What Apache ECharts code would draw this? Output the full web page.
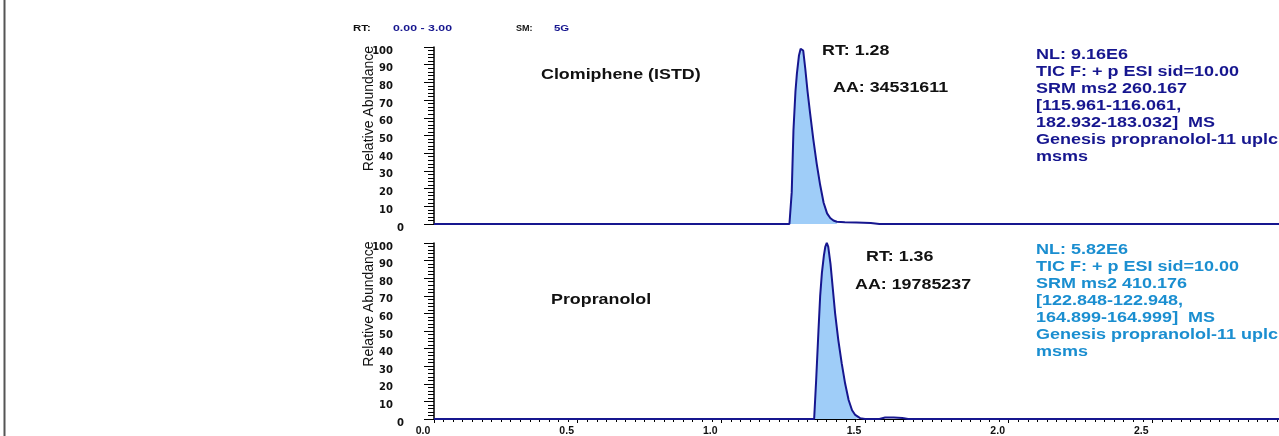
<!DOCTYPE html>
<html>
<head>
<meta charset="utf-8">
<script src="https://cdn.jsdelivr.net/npm/echarts@6/dist/echarts.min.js"></script>
<style>
  html, body { margin: 0; padding: 0; background: #fff; }
  #chart { width: 1279px; height: 436px; }
</style>
</head>
<body>
<div id="chart"></div>
<script>
// retention time (min) vs relative abundance (%)
const clomipheneTimes = [0, 1.2, 1.237, 1.245, 1.251, 1.258, 1.263, 1.27, 1.276, 1.28, 1.285, 1.292, 1.3, 1.309, 1.32, 1.332, 1.344, 1.356, 1.368, 1.379, 1.39, 1.402, 1.43, 1.47, 1.52, 1.55, 3.0]
const clomipheneValues = [0, 0, 0, 18, 53, 75, 85, 95, 99, 100, 98, 88, 75, 62.5, 48, 34, 22, 12, 6, 3.4, 2, 1.3, 1, 0.8, 0.5, 0, 0]
const clomiphenePeak = [1.237, 1.402]

const propranololTimes = [0, 1.25, 1.323, 1.33, 1.338, 1.344, 1.35, 1.357, 1.362, 1.367, 1.372, 1.38, 1.388, 1.396, 1.407, 1.419, 1.431, 1.443, 1.455, 1.466, 1.483, 1.5, 1.55, 1.57, 1.6, 1.63, 1.65, 3.0]
const propranololValues = [0, 0, 0, 22, 50, 70, 83, 93, 98, 100, 98, 88, 74, 60, 45, 31.6, 20, 10.8, 5, 2.3, 0.5, 0, 0, 0.8, 0.8, 0.6, 0, 0]
const propranololPeak = [1.323, 1.483]

const topInfo = ['NL: 9.16E6', 'TIC F: + p ESI sid=10.00', 'SRM ms2 260.167', '[115.961-116.061,', '182.932-183.032]  MS', 'Genesis propranolol-11 uplc', 'msms']
const bottomInfo = ['NL: 5.82E6', 'TIC F: + p ESI sid=10.00', 'SRM ms2 410.176', '[122.848-122.948,', '164.899-164.999]  MS', 'Genesis propranolol-11 uplc', 'msms']

const NAVY = '#16168f'
const FILL = '#9fcdf8'
const SKY = '#1a8ed0'

function pairs(times, values) {
  return times.map((t, i) => [t, values[i]])
}
function peakArea(times, values, range) {
  return pairs(times, values).filter(p => p[0] >= range[0] && p[0] <= range[1])
}

function yAxisFor(gridIndex) {
  return {
    gridIndex,
    type: 'value',
    min: 0, max: 100, interval: 10,
    axisLine: { show: true, lineStyle: { color: '#000', width: 1.5 } },
    axisTick: { show: true, length: 10, lineStyle: { color: '#000' } },
    minorTick: { show: true, splitNumber: 5, length: 6, lineStyle: { color: '#000' } },
    splitLine: { show: false },
    axisLabel: {
      margin: 30,
      formatter: v => v === 0 ? '{z|0}' : '{n|' + v + '}',
      rich: {
        n: { padding: [8, 11, 0, 0], fontFamily: 'DejaVu Sans', fontWeight: 'bold', fontSize: 10, color: '#111' },
        z: { padding: [8, 0, 0, 0], fontFamily: 'DejaVu Sans', fontWeight: 'bold', fontSize: 10, color: '#111' }
      }
    }
  }
}

function text(x, y, str, opts) {
  const o = opts || {}
  return {
    type: 'text', x, y,
    scaleX: o.scaleX || 1,
    rotation: o.rotation || 0,
    style: {
      text: str,
      font: (o.weight || 'bold') + ' ' + (o.size || 15) + 'px "Liberation Sans", Arial, sans-serif',
      fill: o.color || '#111',
      textAlign: o.align || 'left', align: o.align || 'left',
      textVerticalAlign: o.valign || 'middle', verticalAlign: o.valign || 'middle',
      lineHeight: o.lineHeight
    }
  }
}

const chart = echarts.init(document.getElementById('chart'))
chart.setOption({
  animation: false,
  grid: [
    { left: 434, top: 47, width: 862, height: 177, outerBoundsMode: 'none', containLabel: false },
    { left: 434, top: 243, width: 862, height: 176, outerBoundsMode: 'none', containLabel: false }
  ],
  xAxis: [
    { gridIndex: 0, type: 'value', min: 0, max: 3, interval: 0.5, show: false },
    {
      gridIndex: 1, type: 'value', min: 0, max: 3, interval: 0.5,
      axisLine: { show: true, lineStyle: { color: '#000', width: 1 } },
      axisTick: { show: true, length: 4, lineStyle: { color: '#000' } },
      minorTick: { show: true, splitNumber: 15, length: 3, lineStyle: { color: '#000' } },
      splitLine: { show: false },
      axisLabel: {
        margin: 7, padding: [0, 22, 0, 0], showMaxLabel: false,
        formatter: v => v.toFixed(1),
        fontFamily: 'Liberation Sans', fontWeight: 'bold', fontSize: 10.5, color: '#111'
      }
    }
  ],
  yAxis: [yAxisFor(0), yAxisFor(1)],
  series: [
    {
      type: 'line', xAxisIndex: 0, yAxisIndex: 0, symbol: 'none', z: 1,
      data: peakArea(clomipheneTimes, clomipheneValues, clomiphenePeak),
      lineStyle: { width: 0 }, areaStyle: { color: FILL, opacity: 1 }
    },
    {
      type: 'line', xAxisIndex: 0, yAxisIndex: 0, symbol: 'none', z: 2,
      data: pairs(clomipheneTimes, clomipheneValues),
      lineStyle: { color: NAVY, width: 2 }
    },
    {
      type: 'line', xAxisIndex: 1, yAxisIndex: 1, symbol: 'none', z: 1,
      data: peakArea(propranololTimes, propranololValues, propranololPeak),
      lineStyle: { width: 0 }, areaStyle: { color: FILL, opacity: 1 }
    },
    {
      type: 'line', xAxisIndex: 1, yAxisIndex: 1, symbol: 'none', z: 2,
      data: pairs(propranololTimes, propranololValues),
      lineStyle: { color: NAVY, width: 2 }
    }
  ],
  graphic: [
    { type: 'line', shape: { x1: 4.5, y1: 0, x2: 4.5, y2: 436 }, style: { stroke: '#555', lineWidth: 2 } },
    text(353, 28.3, 'RT:', { size: 9.5, scaleX: 1.2 }),
    text(393, 28.3, '0.00 - 3.00', { size: 9.5, scaleX: 1.3, color: NAVY }),
    text(516, 28.3, 'SM:', { size: 9.5, scaleX: 0.95 }),
    text(554, 28.3, '5G', { size: 9.5, scaleX: 1.2, color: NAVY }),
    text(369, 108.5, 'Relative Abundance', { size: 14, weight: 'normal', rotation: Math.PI / 2, align: 'center' }),
    text(369, 304, 'Relative Abundance', { size: 14, weight: 'normal', rotation: Math.PI / 2, align: 'center' }),
    text(541, 75, 'Clomiphene (ISTD)', { scaleX: 1.19 }),
    text(822, 50.5, 'RT: 1.28', { scaleX: 1.19 }),
    text(833, 87.5, 'AA: 34531611', { scaleX: 1.19 }),
    text(551, 300, 'Propranolol', { scaleX: 1.19 }),
    text(866, 256.7, 'RT: 1.36', { scaleX: 1.19 }),
    text(855, 285, 'AA: 19785237', { scaleX: 1.19 }),
    text(1036, 46.8, topInfo.join('\n'), { scaleX: 1.2, valign: 'top', lineHeight: 17, color: NAVY }),
    text(1036, 241.8, bottomInfo.join('\n'), { scaleX: 1.2, valign: 'top', lineHeight: 17, color: SKY })
  ]
})
</script>
</body>
</html>
